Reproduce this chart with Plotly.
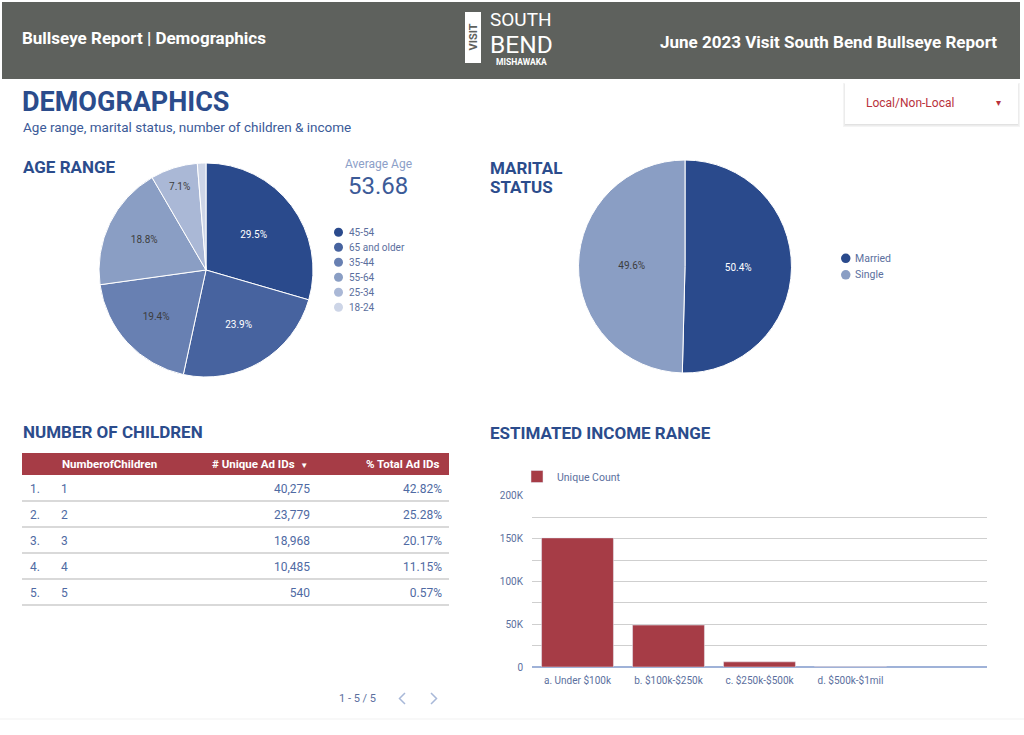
import plotly.graph_objects as go

W, H = 1024, 735
def X(px): return px / W
def Y(py): return 1 - py / H

FONT = "Roboto, sans-serif"
BLUE_T = "#2b4c8c"
BLUE_S = "#3b5a98"
LEG_C = "#5b6f9e"
RED = "#a63c46"
HEADER_BG = "#5e615d"

# ---------------- data ----------------
age_labels = ["45-54", "65 and older", "35-44", "55-64", "25-34", "18-24"]
age_values = [29.5, 23.9, 19.4, 18.8, 7.1, 1.3]
age_colors = ["#2a4a8c", "#47639f", "#6880b2", "#8a9ec4", "#aab8d6", "#cdd5e7"]
age_text_colors = ["white", "white", "#3d3d3d", "#3d3d3d", "#3d3d3d", "#3d3d3d"]
average_age = 53.68

marital_labels = ["Married", "Single"]
marital_values = [50.4, 49.6]
marital_colors = ["#2a4a8c", "#8a9ec4"]
marital_text_colors = ["white", "#3d3d3d"]

table_headers = ["", "NumberofChildren", "# Unique Ad IDs", "% Total Ad IDs"]
sorted_column = "# Unique Ad IDs"
children_rank = ["1.", "2.", "3.", "4.", "5."]
children_num = ["1", "2", "3", "4", "5"]
children_ids = [40275, 23779, 18968, 10485, 540]
children_pct = [42.82, 25.28, 20.17, 11.15, 0.57]

income_labels = ["a. Under $100k", "b. $100k-$250k", "c. $250k-$500k", "d. $500k-$1mil"]
income_counts = [151000, 49000, 6000, 400]
y_tick_vals = [0, 25000, 50000, 75000, 100000, 125000, 150000, 175000, 200000]
y_tick_text = ["0", "", "50K", "", "100K", "", "150K", "", "200K"]

fig = go.Figure()

# ---------------- pies ----------------
fig.add_trace(go.Pie(
    labels=age_labels, values=age_values, sort=False, direction="clockwise", rotation=0,
    marker=dict(colors=age_colors, line=dict(color="white", width=1)),
    text=[f"{v}%" if v >= 5 else "" for v in age_values], textinfo="text",
    textposition="inside", insidetextorientation="horizontal",
    textfont=dict(family=FONT, size=10, color=age_text_colors),
    domain=dict(x=[X(99), X(313)], y=[Y(377), Y(163)]),
    showlegend=False, hoverinfo="label+percent",
))
fig.add_trace(go.Pie(
    labels=marital_labels, values=marital_values, sort=False, direction="clockwise", rotation=0,
    marker=dict(colors=marital_colors, line=dict(color="white", width=1)),
    text=[f"{v}%" for v in marital_values], textinfo="text",
    textposition="inside", insidetextorientation="horizontal",
    textfont=dict(family=FONT, size=10, color=marital_text_colors),
    domain=dict(x=[X(578), X(792)], y=[Y(373), Y(160)]),
    showlegend=False, hoverinfo="label+percent",
))

# ---------------- table (body rows; the empty header sits under the drawn red band) ----------------
ROW_H = 26
TABLE_TOP = 475
EMPTY_HEADER_H = 15
fig.add_trace(go.Table(
    domain=dict(x=[X(22), X(450)], y=[Y(TABLE_TOP + ROW_H * len(children_rank) + 12), Y(TABLE_TOP - EMPTY_HEADER_H)]),
    columnwidth=[31, 147, 118, 132],
    header=dict(values=[], fill=dict(color="rgba(0,0,0,0)"), line=dict(width=0, color="rgba(0,0,0,0)")),
    cells=dict(
        values=[children_rank, children_num,
                [f"{v:,}" for v in children_ids],
                [f"{v:.2f}%" for v in children_pct]],
        fill_color="white", line=dict(width=0, color="white"),
        font=dict(family=FONT, size=12, color="#4f6aa3"),
        align=["left", "left", "right", "right"], height=ROW_H,
    ),
))

# ---------------- bar ----------------
fig.add_trace(go.Bar(
    x=income_labels, y=income_counts, name="Unique Count",
    marker=dict(color=RED), width=0.79, showlegend=True,
    hovertemplate="%{x}: %{y:,}<extra></extra>",
))

shapes = []
annotations = []

# header bar
shapes.append(dict(type="rect", xref="paper", yref="paper", x0=X(2), x1=X(1020), y0=Y(79), y1=Y(2),
                   fillcolor=HEADER_BG, line=dict(width=0), layer="below"))
# logo box
shapes.append(dict(type="rect", xref="paper", yref="paper", x0=X(465), x1=X(481), y0=Y(63), y1=Y(12),
                   fillcolor="white", line=dict(width=0)))
annotations += [
    dict(text="<b>VISIT</b>", x=X(473), y=Y(37.5), textangle=-90, font=dict(family=FONT, size=11, color=HEADER_BG)),
    dict(text="SOUTH", x=X(521), y=Y(19.5), font=dict(family=FONT, size=19, color="white")),
    dict(text="BEND", x=X(521), y=Y(44.5), font=dict(family=FONT, size=24.5, color="white")),
    dict(text="<b>MISHAWAKA</b>", x=X(521), y=Y(62), font=dict(family=FONT, size=8.5, color="white")),
    dict(text="<b>Bullseye Report | Demographics</b>", x=X(20), y=Y(38), xanchor="left",
         font=dict(family=FONT, size=17, color="white")),
    dict(text="<b>June 2023 Visit South Bend Bullseye Report</b>", x=X(999), y=Y(42), xanchor="right",
         font=dict(family=FONT, size=17, color="white")),
]

# dropdown with shadow
for i, c in enumerate(["#f4f4f4", "#ececec", "#e2e2e2"]):
    shapes.append(dict(type="rect", xref="paper", yref="paper",
                       x0=X(845 - 2 + i), x1=X(1020 - i), y0=Y(127 - i), y1=Y(83 + i),
                       fillcolor=c, line=dict(width=0)))
shapes.append(dict(type="rect", xref="paper", yref="paper", x0=X(845), x1=X(1018), y0=Y(124), y1=Y(82),
                   fillcolor="white", line=dict(width=0)))
annotations += [
    dict(text="Local/Non-Local", x=X(864), y=Y(103), xanchor="left", font=dict(family=FONT, size=12, color="#b8323c")),
    dict(text="▾", x=X(998), y=Y(102), font=dict(family=FONT, size=10, color="#b8323c")),
]

# titles
annotations += [
    dict(text="<b>DEMOGRAPHICS</b>", x=X(19.5), y=Y(102), xanchor="left", font=dict(family=FONT, size=27, color=BLUE_T)),
    dict(text="Age range, marital status, number of children & income", x=X(20.5), y=Y(127), xanchor="left",
         font=dict(family=FONT, size=13.5, color=BLUE_S)),
    dict(text="<b>AGE RANGE</b>", x=X(20.5), y=Y(167), xanchor="left", font=dict(family=FONT, size=17, color=BLUE_T)),
    dict(text="<b>MARITAL</b>", x=X(487.5), y=Y(168), xanchor="left", font=dict(family=FONT, size=17, color=BLUE_T)),
    dict(text="<b>STATUS</b>", x=X(487.5), y=Y(187), xanchor="left", font=dict(family=FONT, size=17, color=BLUE_T)),
    dict(text="<b>NUMBER OF CHILDREN</b>", x=X(20.5), y=Y(432), xanchor="left", font=dict(family=FONT, size=17, color=BLUE_T)),
    dict(text="<b>ESTIMATED INCOME RANGE</b>", x=X(487.5), y=Y(433), xanchor="left", font=dict(family=FONT, size=17, color=BLUE_T)),
    dict(text="Average Age", x=X(378), y=Y(164), font=dict(family=FONT, size=12, color="#8ca0c8")),
    dict(text=f"{average_age:.2f}", x=X(378), y=Y(186), font=dict(family=FONT, size=24, color="#3c5b98")),
]

# pie legends
for i, (lab, col) in enumerate(zip(age_labels, age_colors)):
    cy = 232.3 + 15 * i
    shapes.append(dict(type="circle", xref="paper", yref="paper", x0=X(334), x1=X(343), y0=Y(cy + 4.5), y1=Y(cy - 4.5),
                       fillcolor=col, line=dict(width=0)))
    annotations.append(dict(text=lab, x=X(347), y=Y(cy), xanchor="left", font=dict(family=FONT, size=10, color=LEG_C)))
for i, (lab, col) in enumerate(zip(marital_labels, marital_colors)):
    cy = 258.3 + 16.5 * i
    shapes.append(dict(type="circle", xref="paper", yref="paper", x0=X(841), x1=X(850.5), y0=Y(cy + 4.75), y1=Y(cy - 4.75),
                       fillcolor=col, line=dict(width=0)))
    annotations.append(dict(text=lab, x=X(853), y=Y(cy), xanchor="left", font=dict(family=FONT, size=10.5, color=LEG_C)))

# table header band and labels
shapes.append(dict(type="rect", xref="paper", yref="paper", x0=X(22), x1=X(449), y0=Y(475), y1=Y(453),
                   fillcolor=RED, line=dict(width=0)))
col_edges = [22, 53, 200, 318, 450]
header_align = ["left", "left", "right", "right"]
for j, (txt, al) in enumerate(zip(table_headers, header_align)):
    if not txt:
        continue
    label = f"<b>{txt}</b>"
    if txt == sorted_column:
        label += "  <span style='font-size:8px'>▼</span>"
    xpos = col_edges[j] + 7 if al == "left" else col_edges[j + 1] - 8
    annotations.append(dict(text=label, x=X(xpos), y=Y(464), xanchor=al,
                            font=dict(family=FONT, size=11.5, color="white")))

# table row separators
for i in range(len(children_rank)):
    yy = TABLE_TOP + ROW_H * (i + 1)
    shapes.append(dict(type="line", xref="paper", yref="paper", x0=X(22), x1=X(449), y0=Y(yy), y1=Y(yy),
                       line=dict(color="#cdcdcd", width=1.5)))

# pagination
annotations.append(dict(text=f"1 - {len(children_rank)} / {len(children_rank)}", x=X(357), y=Y(698),
                        font=dict(family=FONT, size=11, color=LEG_C)))
shapes.append(dict(type="path", xref="paper", yref="paper",
                   path=f"M {X(405)} {Y(693)} L {X(399.5)} {Y(698.5)} L {X(405)} {Y(704)}",
                   line=dict(color="#a8b8d8", width=1.5)))
shapes.append(dict(type="path", xref="paper", yref="paper",
                   path=f"M {X(431)} {Y(693)} L {X(436.5)} {Y(698.5)} L {X(431)} {Y(704)}",
                   line=dict(color="#a8b8d8", width=1.5)))

# faint page edge at bottom
shapes.append(dict(type="line", xref="paper", yref="paper", x0=0, x1=1, y0=Y(719), y1=Y(719),
                   line=dict(color="#f1f1f1", width=1)))

for a in annotations:
    a.setdefault("xref", "paper")
    a.setdefault("yref", "paper")
    a.setdefault("xanchor", "center")
    a.setdefault("yanchor", "middle")
    a.setdefault("showarrow", False)

YMAX = 201000
fig.update_layout(
    width=W, height=H, autosize=False,
    margin=dict(l=0, r=0, t=0, b=0),
    paper_bgcolor="white", plot_bgcolor="white",
    font=dict(family=FONT, color=LEG_C),
    shapes=shapes, annotations=annotations,
    showlegend=True,
    legend=dict(x=X(517), y=Y(462), xanchor="left", yanchor="top", orientation="h",
                font=dict(family=FONT, size=10.5, color=LEG_C), bgcolor="rgba(0,0,0,0)"),
    xaxis=dict(domain=[X(532), X(987)], range=[-0.5, 4.5], showgrid=False, zeroline=False,
               showline=False, ticks="", ticklabelstandoff=6,
               tickfont=dict(family=FONT, size=10, color=LEG_C),
               automargin=False, fixedrange=True),
    yaxis=dict(domain=[Y(667), Y(667 - 171 * YMAX / 200000)], range=[0, YMAX],
               tickvals=y_tick_vals, ticktext=y_tick_text,
               showgrid=True, gridcolor="#cfcfcf", gridwidth=1, zeroline=True, zerolinecolor="#9fb2d8",
               zerolinewidth=1.5, showline=False, ticks="", ticklabelstandoff=8,
               tickfont=dict(family=FONT, size=10, color=LEG_C), automargin=False, fixedrange=True),
)

fig.write_html("out.html", config={"displayModeBar": False},
               post_script="document.body.style.margin='0px';")
